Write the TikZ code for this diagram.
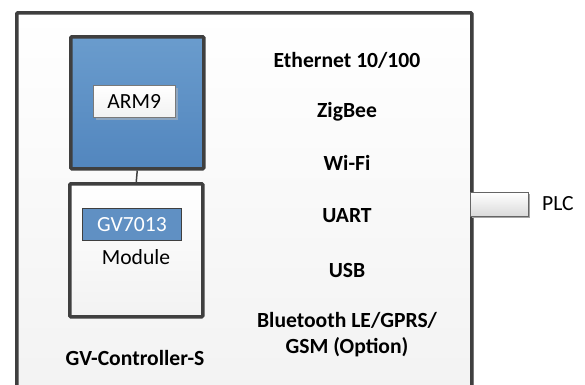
\documentclass[tikz,border=0pt]{standalone}
\usepackage{fontspec}
\setmainfont{Carlito}
\definecolor{edge}{HTML}{3F3F3F}
\definecolor{bluetop}{HTML}{6A9CCD}
\definecolor{bluebot}{HTML}{5286BE}
\definecolor{panel}{HTML}{F2F2F2}
\begin{document}
\begin{tikzpicture}[x=1pt,y=-1pt,
  lbl/.style={font=\fontsize{21.6}{26}\selectfont\bfseries, align=center, inner sep=0pt},
  plain/.style={font=\fontsize{21.6}{26}\selectfont, inner sep=0pt},
  thickbox/.style={draw=edge, line width=3.5pt, rounded corners=1pt},
  shade/.style={fill=black!12, draw=none}]
\useasboundingbox (0,0) rectangle (585,384);
\fill[white] (0,0) rectangle (585,384);
\begin{scope}
\clip (0,0) rectangle (585,384);
% outer panel
\fill[shade] (18,14) rectangle (474,400);
\node[thickbox, top color=white, bottom color=panel, minimum width=455pt, minimum height=390pt, inner sep=0pt, anchor=north west] (panel) at (15,11) {};
\end{scope}
% ARM9 block
\fill[shade] (72,38) rectangle (205,170);
\node[thickbox, top color=bluetop, bottom color=bluebot, minimum width=133pt, minimum height=132pt, inner sep=0pt, anchor=north west] (arm) at (69,35) {};
\fill[bluebot!80!black!60] (96,88) rectangle (178,120);
\node[draw=edge!70, line width=0.6pt, top color=white, bottom color=panel, minimum width=82pt, minimum height=32pt, inner sep=0pt, plain, anchor=north west] (armlbl) at (93,85) {ARM9};
% module block
\fill[shade] (71,185) rectangle (204,318);
\node[thickbox, top color=white, bottom color=panel, minimum width=133pt, minimum height=133pt, inner sep=0pt, anchor=north west] (mod) at (68,182) {};
\node[draw=edge, line width=0.8pt, fill=bluebot!92!white, text=white, minimum width=99pt, minimum height=32pt, inner sep=0pt, plain, anchor=north west] (gv) at (82,208) {GV7013};
\node[plain] (modtxt) at (136,257) {Module};
\draw[edge, line width=1.5pt] (arm.south) -- (mod.north);
% labels
\node[lbl] (eth) at (347,60) {Ethernet 10/100};
\node[lbl] (zig) at (347,112) {ZigBee};
\node[lbl] (wifi) at (347,163) {Wi-Fi};
\node[lbl] (uart) at (347,216) {UART};
\node[lbl] (usb) at (347,270) {USB};
\node[lbl] (bt) at (347,335) {Bluetooth LE/GPRS/\\GSM (Option)};
\node[lbl] (ctrl) at (135,358) {GV-Controller-S};
% PLC
\fill[black!35] (472,194) rectangle (530,218);
\node[draw=edge!80, line width=0.8pt, top color=white, bottom color=panel!90!black, minimum width=58pt, minimum height=24pt, inner sep=0pt, anchor=north west] (plc) at (470,192) {};
\node[plain, anchor=west] (plctxt) at (542,204) {PLC};
\end{tikzpicture}
\end{document}
